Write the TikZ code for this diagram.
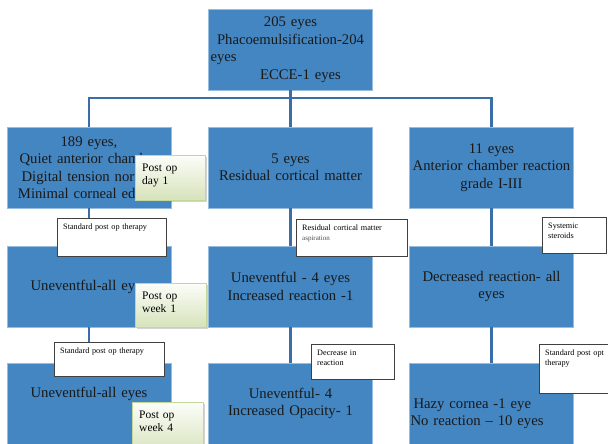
\documentclass[tikz,border=0pt]{standalone}
\usepackage{fontspec}
\setmainfont{Liberation Serif}
\usepackage{tikz}
\usetikzlibrary{positioning}
\usetikzlibrary{shadows}
\definecolor{boxblue}{RGB}{68,134,193}
\definecolor{linkblue}{RGB}{58,110,168}
\definecolor{stageedge}{RGB}{195,214,155}
\definecolor{stagefill}{RGB}{214,227,186}
\tikzstyle{block}=[rectangle, fill=boxblue, draw=boxblue!55!white, line width=0.6pt, minimum width=164pt, minimum height=81pt, text width=160pt, inner xsep=2pt, align=center, text=black!90, font=\fontsize{14.7}{17.5}\selectfont]
\tikzstyle{link}=[draw=linkblue, line width=2.5pt]
\tikzstyle{note}=[rectangle, draw=black!75, fill=white, anchor=north west, align=left, inner xsep=6pt, inner ysep=5pt, text height=6pt, font=\fontsize{8.2}{10}\selectfont]
\tikzstyle{stage}=[rectangle, draw=stageedge, top color=white!92!stagefill, bottom color=stagefill, drop shadow={shadow xshift=1.5pt, shadow yshift=-1.5pt, opacity=0.35}, anchor=north west, align=left, inner xsep=7pt, inner ysep=7pt, text height=9pt, font=\fontsize{11.5}{13.5}\selectfont]

\begin{document}
\begin{tikzpicture}[x=1pt, y=-1pt]
    \useasboundingbox (0,0) rectangle (608,444);
    \clip (0,0) rectangle (608,444);

    \node [block] (root) at (290.5,49.5) {205 eyes\\ Phacoemulsification-204\\ \makebox[\linewidth][l]{eyes}\\ \hspace*{20pt}ECCE-1 eyes};

    \node [block] (d1-1) at (89,167.5) {189 eyes,\\ Quiet anterior chamber\\ Digital tension normal\\ Minimal corneal edema};
    \node [block] (d1-2) at (290.5,167.5) {5 eyes\\ Residual cortical matter};
    \node [block] (d1-3) at (491.5,167.5) {11 eyes\\ Anterior chamber reaction\\ grade I-III};

    \node [block] (w1-1) at (89,286.5) {Uneventful-all eyes};
    \node [block] (w1-2) at (290.5,286.5) {Uneventful - 4 eyes\\ Increased reaction -1};
    \node [block] (w1-3) at (491.5,286.5) {Decreased reaction- all\\ eyes};

    \node [block] (w4-1) at (89,403.5) {Uneventful-all eyes\\ \strut};
    \node [block] (w4-2) at (290.5,403.5) {Uneventful- 4\\ Increased Opacity- 1};
    \node [block, align=left] (w4-3) at (491.5,403.5) {\strut\\ \hspace*{2pt}Hazy cornea -1 eye\\ \hspace*{-1pt}No reaction – 10 eyes};

    \coordinate (bus) at (290.5,98);
    \draw [link] (root) -- (bus);
    \foreach \i in {1,2,3}
    \draw [link] (bus) -| (d1-\i);

    \foreach \i in {1,2,3} {
    \draw [link] (d1-\i) -- (w1-\i);
    \draw [link] (w1-\i) -- (w4-\i);
    }

    % treatment notes
    \node [note, text width=97pt, text depth=22pt] (rx-d1-1) at (57,218) {Standard post op therapy};
    \node [note, text width=99pt, text depth=21pt] (rx-d1-2) at (296,219) {Residual cortical matter\\ {\fontsize{7}{9}\selectfont\color{black!70}aspiration}};
    \node [note, text width=52pt, text depth=20pt] (rx-d1-3) at (542,217) {Systemic\\ steroids};
    \node [note, text width=98pt, text depth=18pt] (rx-w1-1) at (54,342) {Standard post op therapy};
    \node [note, text width=71pt, text depth=19pt] (rx-w1-2) at (311,344) {Decrease in\\ reaction};
    \node [note, text width=62pt, text depth=33pt] (rx-w1-3) at (539,344) {Standard post opt\\ therapy};

    % follow-up time
    \node [stage, text width=56pt, text depth=22pt] (at-d1) at (135,155) {Post op\\ day 1};
    \node [stage, text width=57pt, text depth=21pt] (at-w1) at (135,283) {Post op\\ week 1};
    \node [stage, text width=57pt, text depth=30pt] (at-w4) at (132,402) {Post op\\ week 4};
\end{tikzpicture}
\end{document}
